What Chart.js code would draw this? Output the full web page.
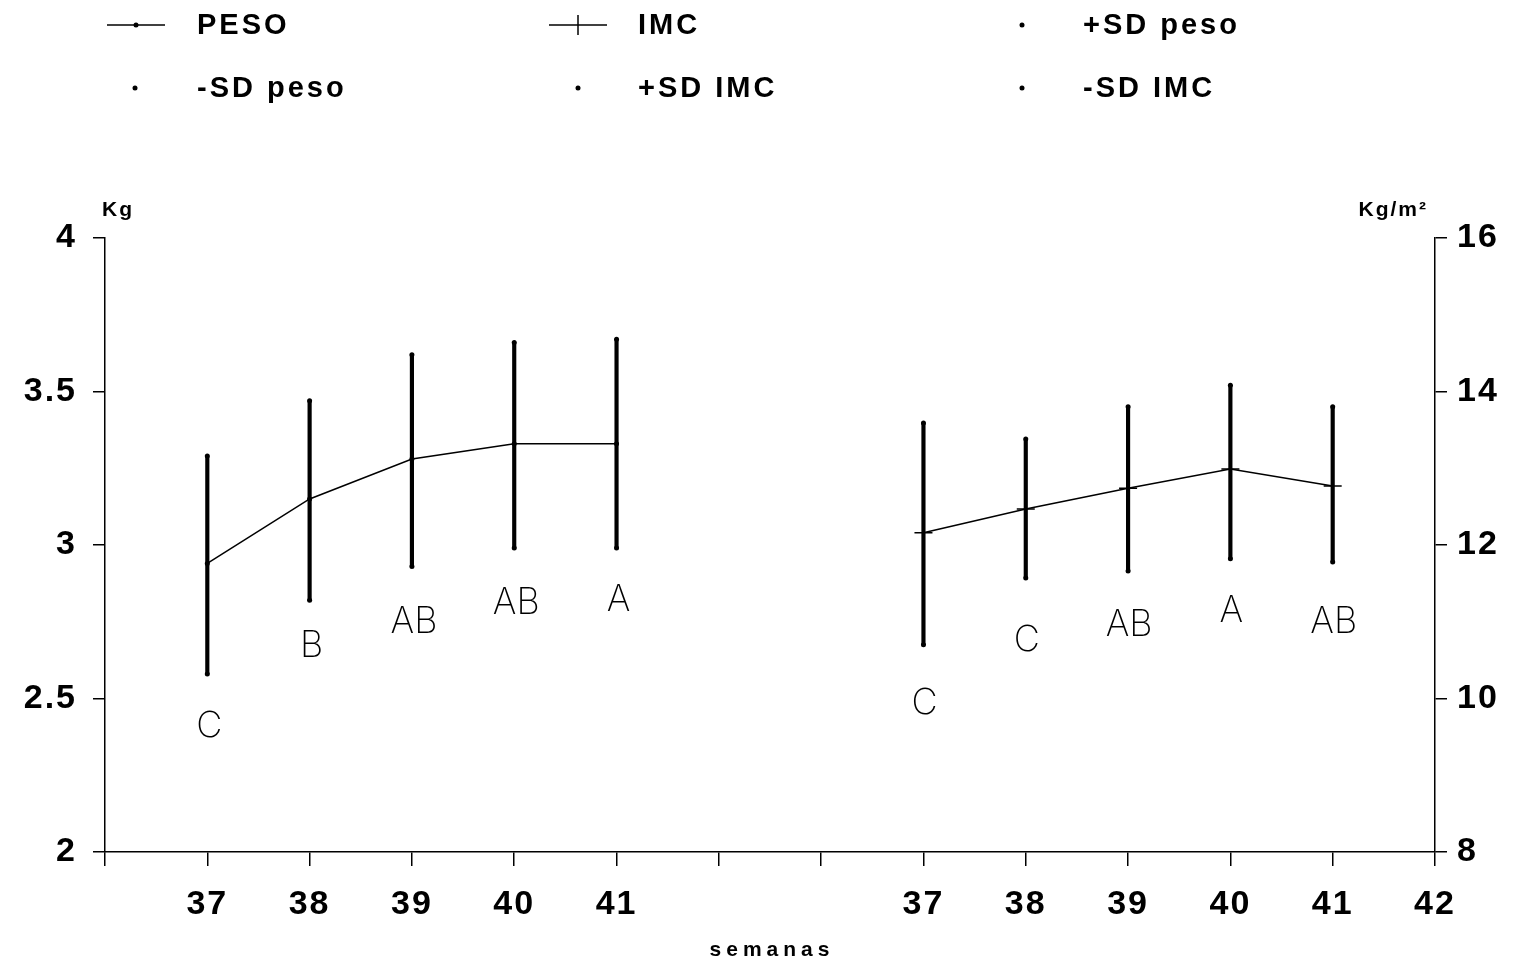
<!DOCTYPE html>
<html>
<head>
<meta charset="utf-8">
<script src="https://cdn.jsdelivr.net/npm/chart.js@4"></script>
<style>
  html, body { margin: 0; padding: 0; background: #fff; }
  #wrap { width: 1522px; height: 963px; position: relative; }
</style>
</head>
<body>
<div id="wrap"><canvas id="chart"></canvas></div>
<script>
// --- Data ---
// x positions: 0..13 along the axis, two panels of weeks 37-41
const tickLabels = ['', '37', '38', '39', '40', '41', '', '', '37', '38', '39', '40', '41', '42'];
const pesoPos = [1, 2, 3, 4, 5];
const imcPos = [8, 9, 10, 11, 12];

// PESO (Kg, left axis)
const pesoMean = [2.94, 3.15, 3.28, 3.33, 3.33];
const pesoPlusSD = [3.29, 3.47, 3.62, 3.66, 3.67];
const pesoMinusSD = [2.58, 2.82, 2.93, 2.99, 2.99];
const pesoLetters = ['C', 'B', 'AB', 'AB', 'A'];
const pesoLetterY = [2.41, 2.67, 2.75, 2.81, 2.82];

// IMC (Kg/m², right axis)
const imcMean = [12.16, 12.47, 12.74, 12.99, 12.77];
const imcPlusSD = [13.59, 13.38, 13.80, 14.08, 13.80];
const imcMinusSD = [10.70, 11.57, 11.66, 11.82, 11.78];
const imcLetters = ['C', 'C', 'AB', 'A', 'AB'];
const imcLetterY = [9.94, 10.76, 10.96, 11.14, 11.00];

const pts = (xs, ys) => xs.map((x, i) => ({ x, y: ys[i] }));
const spans = (xs, lo, hi) => xs.map((x, i) => ({ x, y: [lo[i], hi[i]] }));

// --- Extra drawing: legend, unit labels, letters ---
const annotations = {
  id: 'annotations',
  beforeLayout(chart) { chart.ctx.letterSpacing = '2px'; },
  beforeDraw(chart) { chart.ctx.letterSpacing = '2px'; },
  afterDraw(chart) {
    const ctx = chart.ctx;
    const yL = chart.scales.y, yR = chart.scales.y2, x = chart.scales.x;
    ctx.save();
    ctx.fillStyle = '#000';
    ctx.strokeStyle = '#000';

    // legend (3 columns x 2 rows)
    const legend = [
      { label: 'PESO', kind: 'dotline', sx: 136, tx: 197, y: 25 },
      { label: 'IMC', kind: 'crossline', sx: 578, tx: 638, y: 25 },
      { label: '+SD peso', kind: 'dot', sx: 1022, tx: 1083, y: 25 },
      { label: '-SD peso', kind: 'dot', sx: 135, tx: 197, y: 88 },
      { label: '+SD IMC', kind: 'dot', sx: 578, tx: 638, y: 88 },
      { label: '-SD IMC', kind: 'dot', sx: 1022, tx: 1083, y: 88 },
    ];
    ctx.font = 'bold 29px "Liberation Sans", Arial, sans-serif';
    ctx.letterSpacing = '3px';
    ctx.textBaseline = 'middle';
    ctx.textAlign = 'left';
    legend.forEach(it => {
      ctx.lineWidth = 1.5;
      if (it.kind !== 'dot') {
        ctx.beginPath();
        ctx.moveTo(it.sx - 29, it.y);
        ctx.lineTo(it.sx + 29, it.y);
        ctx.stroke();
      }
      if (it.kind === 'crossline') {
        ctx.beginPath();
        ctx.moveTo(it.sx, it.y - 10);
        ctx.lineTo(it.sx, it.y + 10);
        ctx.stroke();
      } else {
        ctx.beginPath();
        ctx.arc(it.sx, it.y, 2.5, 0, Math.PI * 2);
        ctx.fill();
      }
      ctx.fillText(it.label, it.tx, it.y + 1);
    });

    // unit labels and axis title
    ctx.font = 'bold 21px "Liberation Sans", Arial, sans-serif';
    ctx.letterSpacing = '2px';
    ctx.fillText('Kg', 102, 210);
    ctx.textAlign = 'right';
    ctx.fillText('Kg/m²', 1428, 210);
    ctx.textAlign = 'center';
    ctx.letterSpacing = '5px';
    ctx.fillText('semanas', 772, 950);

    // significance letters
    ctx.font = '200 36px Inter, "Liberation Sans", sans-serif';
    ctx.letterSpacing = '0px';
    ctx.textAlign = 'center';
    pesoPos.forEach((p, i) => ctx.fillText(pesoLetters[i], x.getPixelForValue(p) + 2, yL.getPixelForValue(pesoLetterY[i])));
    imcPos.forEach((p, i) => ctx.fillText(imcLetters[i], x.getPixelForValue(p) + 1, yR.getPixelForValue(imcLetterY[i])));
    ctx.restore();
  }
};

const tickFont = { family: '"Liberation Sans", Arial, sans-serif', size: 34, weight: 'bold' };
const axisGrid = { display: true, drawOnChartArea: false, drawTicks: true, offset: false, color: '#000', lineWidth: 1.5 };

new Chart(document.getElementById('chart'), {
  type: 'line',
  data: {
    datasets: [
      {
        label: 'PESO', data: pts(pesoPos, pesoMean), yAxisID: 'y',
        borderColor: '#000', borderWidth: 1.5, pointRadius: 2.5,
        pointBackgroundColor: '#000', pointBorderWidth: 0, tension: 0,
      },
      {
        label: 'IMC', data: pts(imcPos, imcMean), yAxisID: 'y2',
        borderColor: '#000', borderWidth: 1.5, pointStyle: 'cross',
        pointRadius: 9, pointBorderColor: '#000', pointBorderWidth: 1.5, tension: 0,
      },
      {
        type: 'bar', label: 'SD peso', data: spans(pesoPos, pesoMinusSD, pesoPlusSD), yAxisID: 'y',
        backgroundColor: '#000', barThickness: 3.5, grouped: false,
      },
      {
        type: 'bar', label: 'SD IMC', data: spans(imcPos, imcMinusSD, imcPlusSD), yAxisID: 'y2',
        backgroundColor: '#000', barThickness: 3.5, grouped: false,
      },
      { label: '+SD peso', data: pts(pesoPos, pesoPlusSD), yAxisID: 'y', showLine: false, pointRadius: 2.5, pointBackgroundColor: '#000', pointBorderWidth: 0 },
      { label: '-SD peso', data: pts(pesoPos, pesoMinusSD), yAxisID: 'y', showLine: false, pointRadius: 2.5, pointBackgroundColor: '#000', pointBorderWidth: 0 },
      { label: '+SD IMC', data: pts(imcPos, imcPlusSD), yAxisID: 'y2', showLine: false, pointRadius: 2.5, pointBackgroundColor: '#000', pointBorderWidth: 0 },
      { label: '-SD IMC', data: pts(imcPos, imcMinusSD), yAxisID: 'y2', showLine: false, pointRadius: 2.5, pointBackgroundColor: '#000', pointBorderWidth: 0 },
    ],
  },
  options: {
    responsive: true,
    maintainAspectRatio: false,
    animation: false,
    layout: { padding: { top: 238, left: 0, right: 0, bottom: 0 } },
    plugins: { legend: { display: false }, tooltip: { enabled: false } },
    scales: {
      x: {
        type: 'linear', min: 0, max: 13, offset: false,
        grid: { ...axisGrid, tickLength: 14 },
        border: { display: true, color: '#000', width: 1.5 },
        ticks: {
          stepSize: 1, autoSkip: false, maxRotation: 0, padding: 18,
          color: '#000', font: tickFont,
          callback: v => tickLabels[v],
        },
        afterFit: s => { s.height = 111; },
      },
      y: {
        type: 'linear', position: 'left', min: 2, max: 4,
        grid: { ...axisGrid, tickLength: 12 },
        border: { display: true, color: '#000', width: 1.5 },
        ticks: { stepSize: 0.5, padding: 16, color: '#000', font: tickFont, callback: v => String(v) },
        afterFit: s => { s.width = 105; },
      },
      y2: {
        type: 'linear', position: 'right', min: 8, max: 16,
        grid: { ...axisGrid, tickLength: 12 },
        border: { display: true, color: '#000', width: 1.5 },
        ticks: { stepSize: 2, padding: 10, color: '#000', font: tickFont, callback: v => String(v) },
        afterFit: s => { s.width = 87; },
      },
    },
  },
  plugins: [annotations],
});
</script>
</body>
</html>
